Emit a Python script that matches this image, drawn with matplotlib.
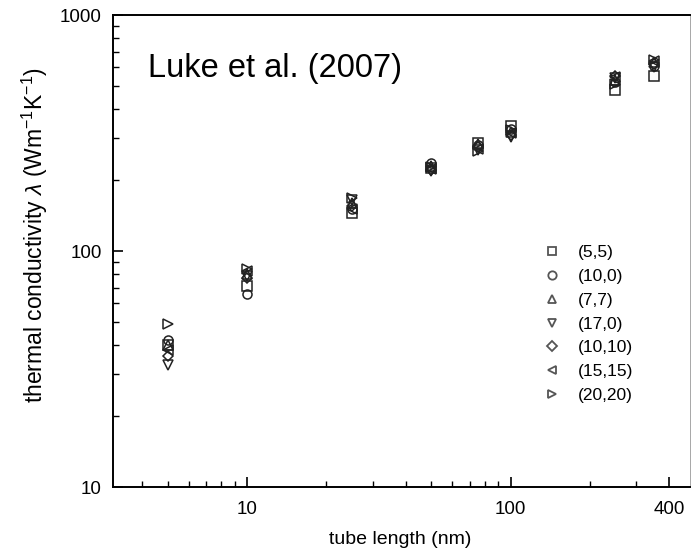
import matplotlib
matplotlib.use("Agg")
import matplotlib.pyplot as plt
from matplotlib.lines import Line2D

plt.rcParams['font.family'] = ['Liberation Sans', 'DejaVu Sans']
plt.rcParams['mathtext.fontset'] = 'custom'
plt.rcParams['mathtext.rm'] = 'Liberation Sans'
plt.rcParams['mathtext.it'] = 'Liberation Sans:italic'

lengths = [5, 10, 25, 50, 75, 100, 250, 350]
series_labels = ["(5,5)", "(10,0)", "(7,7)", "(17,0)", "(10,10)", "(15,15)", "(20,20)"]
series_markers = ["s", "o", "^", "v", "D", "<", ">"]

k_5_5 = [40, 71, 145, 225, 288, 340, 480, 550]
k_10_0 = [42, 66, 150, 235, 280, 330, 520, 610]
k_7_7 = [40, 80, 160, 230, 285, 320, 530, 630]
k_17_0 = [33, 78, 165, 218, 268, 305, 540, 600]
k_10_10 = [36, 77, 155, 220, 275, 310, 550, 620]
k_15_15 = [38, 82, 150, 222, 270, 315, 545, 640]
k_20_20 = [49, 84, 168, 228, 265, 325, 510, 645]
series_values = [k_5_5, k_10_0, k_7_7, k_17_0, k_10_10, k_15_15, k_20_20]

fig = plt.figure(figsize=(6.93, 5.56), dpi=100)
ax = fig.add_axes([113/693, 1-487/556, (690-113)/693, (487-15)/556])

for vals, m in zip(series_values, series_markers):
    ms = 6.5 if m != "D" else 5.5
    ax.plot(lengths, vals, linestyle='none', marker=m, markersize=ms,
            markerfacecolor='none', markeredgecolor='#222222', markeredgewidth=1.1)

ax.set_xscale('log')
ax.set_yscale('log')
ax.set_xlim(3.1, 480)
ax.set_ylim(10, 1000)
ax.set_xticks([10, 100, 400])
ax.set_xticklabels(["10", "100", "400"])
ax.set_yticks([10, 100, 1000])
ax.set_yticklabels(["10", "100", "1000"])
ax.tick_params(which='major', direction='in', length=7, width=1.2, labelsize=13.5,
               top=False, right=False)
ax.tick_params(axis='y', which='major', pad=8)
ax.tick_params(axis='x', which='major', pad=10)
ax.tick_params(which='minor', direction='in', length=4, width=1.0,
               top=False, right=False, labelleft=False, labelbottom=False)
for s in ['left', 'bottom', 'top']:
    ax.spines[s].set_linewidth(1.4)
ax.spines['right'].set_linewidth(0.6)
ax.spines['right'].set_color('#999999')

ax.set_xlabel("tube length (nm)", fontsize=14)
ax.xaxis.set_label_coords((400-113)/577, -(531-487)/472)
ax.set_ylabel(r"thermal conductivity $\lambda$ (Wm$^{\mathregular{-1}}$K$^{\mathregular{-1}}$)",
              fontsize=16.5)
ax.yaxis.set_label_coords(-(113-50)/577, (487-235)/472)

ax.text(148/693, 1-68/556, "Luke et al. (2007)", transform=fig.transFigure,
        fontsize=23.5, va='center', ha='left')

handles = [Line2D([], [], linestyle='none', marker=m, markersize=6.0 if m != "D" else 5.0,
                  markerfacecolor='none', markeredgecolor='#555555', markeredgewidth=1.3)
           for m in series_markers]
leg = ax.legend(handles, series_labels, loc='upper left',
                bbox_to_anchor=((543-113)/577, (487-245)/472),
                frameon=False, fontsize=12.5, handlelength=1.0, handletextpad=1.0,
                labelspacing=0.5, borderpad=0, borderaxespad=0)

fig.savefig("out.png", dpi=100)
